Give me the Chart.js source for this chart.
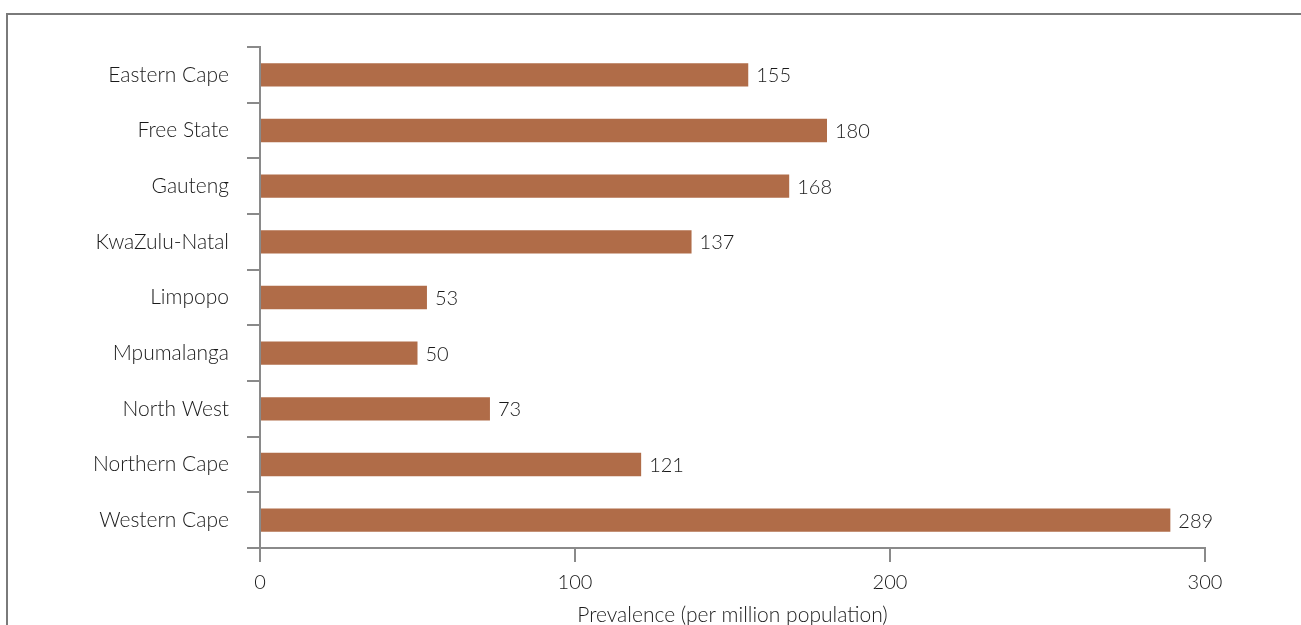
<!DOCTYPE html>
<html>
<head>
<meta charset="utf-8">
<script src="https://cdn.jsdelivr.net/npm/chart.js@4"></script>
<style>
  html, body { margin: 0; padding: 0; background: #fff; }
  #wrap { position: relative; width: 1301px; height: 625px; overflow: hidden; }
  #frame { position: absolute; left: 6px; top: 13px; width: 1400px; height: 700px;
           border-top: 2px solid #7a7a7a; border-left: 2px solid #7a7a7a; }
  canvas { position: absolute; left: 0; top: 0; }
</style>
</head>
<body>
<div id="wrap">
  <div id="frame"></div>
  <canvas id="myChart" width="1301" height="625"></canvas>
</div>
<script>
// provinces and prevalence per million
var provinces = ['Eastern Cape', 'Free State', 'Gauteng', 'KwaZulu-Natal', 'Limpopo',
  'Mpumalanga', 'North West', 'Northern Cape', 'Western Cape'];
var prevalence = [155, 180, 168, 137, 53, 50, 73, 121, 289];
var xTicks = [0, 100, 200, 300];
var xTitle = 'Prevalence (per million population)';

var fontFamily = "Lato, 'Noto Sans', sans-serif";
var axisColor = '#8a8a8a';
var textColor = '#1a1a1a';

// value label at the end of each bar
var barLabels = {
  id: 'barLabels',
  afterDatasetsDraw: function(chart) {
    var ctx = chart.ctx;
    var meta = chart.getDatasetMeta(0);
    ctx.save();
    ctx.font = '300 20px ' + fontFamily;
    ctx.fillStyle = textColor;
    ctx.textAlign = 'left';
    ctx.textBaseline = 'middle';
    meta.data.forEach(function(bar, i) {
      ctx.fillText(prevalence[i], bar.x + 8, bar.y + 1);
    });
    ctx.restore();
  }
};

function drawChart() {
  var ctx = document.getElementById('myChart').getContext('2d');
  var myChart = new Chart(ctx, {
    type: 'bar',
    data: {
      labels: provinces,
      datasets: [{
        label: 'Prevalence',
        data: prevalence,
        backgroundColor: '#b06c48',
        barPercentage: 0.42,
        categoryPercentage: 1
      }]
    },
    options: {
      indexAxis: 'y',
      responsive: false,
      animation: false,
      layout: { padding: { top: 47, right: 96, left: 0, bottom: 0 } },
      plugins: { legend: { display: false }, tooltip: { enabled: false } },
      scales: {
        x: {
          min: 0,
          max: 300,
          afterBuildTicks: function(scale) {
            scale.ticks = xTicks.map(function(v) { return { value: v }; });
          },
          afterFit: function(scale) { scale.height = 77; },
          grid: { drawOnChartArea: false, tickLength: 14, color: axisColor, lineWidth: 2 },
          border: { display: true, color: axisColor, width: 2 },
          ticks: { color: textColor, padding: 9, font: { family: fontFamily, size: 20, weight: 300 } },
          title: {
            display: true,
            text: xTitle,
            color: textColor,
            padding: { top: 0, bottom: -3 },
            font: { family: fontFamily, size: 21, weight: 300 }
          }
        },
        y: {
          afterFit: function(scale) { scale.width = 260; },
          grid: { drawOnChartArea: false, offset: true, tickLength: 13, color: axisColor, lineWidth: 2 },
          border: { display: true, color: axisColor, width: 2 },
          ticks: { color: textColor, padding: 18, font: { family: fontFamily, size: 21, weight: 300 } }
        }
      }
    },
    plugins: [barLabels]
  });
}

drawChart();
</script>
</body>
</html>
